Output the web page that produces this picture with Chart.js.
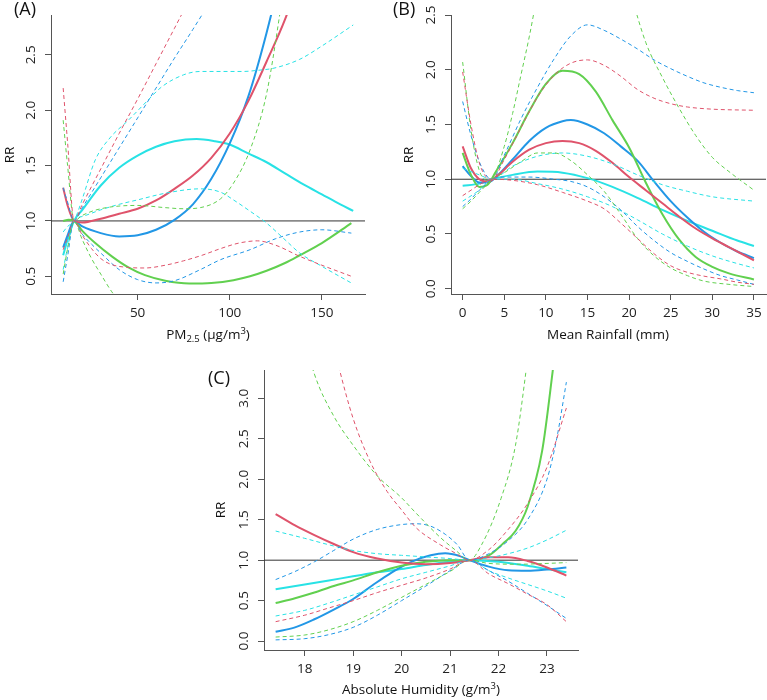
<!DOCTYPE html>
<html>
<head>
<meta charset="utf-8">
<script src="https://cdn.jsdelivr.net/npm/chart.js@4.4.1/dist/chart.umd.min.js"></script>
<style>
  html, body { margin:0; padding:0; background:#fff; }
  body { width:767px; height:700px; position:relative; overflow:hidden; font-family:'Open Sans', sans-serif; }
  canvas { position:absolute; }
  .t { position:absolute; font-family:'Open Sans', sans-serif; font-size:13.5px; line-height:13px; color:#111; white-space:nowrap; }
  .ctr { transform:translateX(-50%); }
  .rot { transform:translate(-50%,-50%) rotate(-90deg); }
  .pl { position:absolute; font-family:'Open Sans', sans-serif; font-size:18px; line-height:17px; color:#111; white-space:nowrap; }
  .sb { font-size:9.5px; line-height:0; vertical-align:-3px; }
  .sp { font-size:9.5px; line-height:0; vertical-align:5px; }
</style>
</head>
<body>
<canvas id="cA" width="380" height="350" style="left:0;top:0"></canvas>
<canvas id="cB" width="387" height="350" style="left:380px;top:0"></canvas>
<canvas id="cC" width="420" height="350" style="left:190px;top:350px"></canvas>

<div class="pl" style="left:14px;top:0px">(A)</div>
<div class="pl" style="left:393px;top:0px">(B)</div>
<div class="pl" style="left:208px;top:369px">(C)</div>

<div class="t rot" style="left:9px;top:155px">RR</div>
<div class="t rot" style="left:408px;top:155px">RR</div>
<div class="t rot" style="left:220px;top:510px">RR</div>

<div class="t ctr" style="left:208px;top:328px">PM<span class="sb">2.5</span> (µg/m<span class="sp">3</span>)</div>
<div class="t ctr" style="left:608px;top:328px">Mean Rainfall (mm)</div>
<div class="t ctr" style="left:421px;top:683px">Absolute Humidity (g/m<span class="sp">3</span>)</div>

<script>
// ---------------- DATA ----------------
// Panel A: PM2.5 (µg/m3)  -- [x, RR]
const A_xTicks = [50, 100, 150];
const A_yTicks = [0.5, 1.0, 1.5, 2.0, 2.5];
const A_red_fit  = [[9.6,1.30],[12,1.14],[15.5,1.0],[20,0.985],[30,1.02],[40,1.065],[50,1.11],[60,1.185],[70,1.29],[80,1.41],[90,1.57],[100,1.79],[110,2.08],[120,2.44],[130,2.82],[140,3.3],[150,3.85],[167,5.0]];
const A_red_lo   = [[9.6,0.74],[12,0.85],[15.5,1.0],[20,0.87],[25,0.75],[30,0.66],[36,0.605],[45,0.58],[54,0.575],[65,0.60],[75,0.64],[85,0.69],[95,0.75],[105,0.80],[115,0.82],[125,0.78],[138,0.68],[150,0.60],[166,0.50]];
const A_red_hi   = [[9.6,2.20],[12,1.71],[15.5,1.0],[20,1.15],[30,1.47],[40,1.79],[50,2.10],[60,2.42],[70,2.74],[80,3.06],[100,3.7],[130,4.6],[167,5.8]];
const A_blue_fit = [[9.6,0.76],[12,0.87],[15.5,1.0],[20,0.95],[30,0.89],[40,0.86],[50,0.87],[60,0.92],[70,1.01],[80,1.15],[90,1.38],[100,1.70],[110,2.12],[120,2.70],[130,3.4],[140,4.2],[167,7.0]];
const A_blue_lo  = [[9.6,0.45],[12,0.68],[15.5,1.0],[20,0.88],[25,0.79],[30,0.71],[40,0.56],[50,0.47],[60,0.44],[70,0.46],[84,0.56],[95,0.65],[111,0.74],[125,0.84],[138,0.90],[150,0.92],[166,0.89]];
const A_blue_hi  = [[9.6,1.30],[12,1.17],[15.5,1.0],[20,1.12],[30,1.39],[40,1.66],[50,1.93],[60,2.20],[70,2.47],[80,2.73],[90,3.0],[110,3.6],[167,5.5]];
const A_cyan_fit = [[9.6,0.69],[12,0.83],[15.5,1.0],[20,1.10],[30,1.32],[40,1.48],[50,1.59],[60,1.67],[70,1.72],[82,1.74],[92,1.72],[100,1.69],[110,1.61],[120,1.53],[130,1.43],[140,1.33],[150,1.24],[160,1.15],[167,1.09]];
const A_cyan_lo  = [[9.6,0.56],[12,0.76],[15.5,1.0],[20,1.04],[30,1.10],[40,1.15],[50,1.19],[65,1.25],[84,1.29],[95,1.26],[102,1.19],[110,1.10],[120,0.98],[130,0.83],[138,0.71],[150,0.59],[167,0.43]];
const A_cyan_hi  = [[9.6,0.90],[12,0.95],[15.5,1.0],[20,1.20],[27,1.55],[35,1.75],[45,1.91],[55,2.08],[63,2.21],[75,2.32],[84,2.35],[95,2.35],[107,2.35],[115,2.36],[124,2.38],[138,2.46],[150,2.58],[167,2.77]];
const A_green_fit= [[9.6,1.0],[12.5,1.01],[15.5,1.0],[20,0.91],[27,0.80],[36,0.68],[45,0.58],[54,0.51],[65,0.46],[78,0.435],[90,0.44],[102,0.465],[111,0.50],[120,0.55],[130,0.62],[138,0.69],[150,0.80],[166,0.98]];
const A_green_lo = [[9.6,0.52],[12,0.75],[15.5,1.0],[20,0.83],[25,0.66],[30,0.52],[36,0.36],[45,0.18],[60,0.08],[90,0.05],[130,0.05],[167,0.08]];
const A_green_hi = [[9.6,1.91],[12,1.50],[15.5,1.0],[20,1.05],[30,1.11],[50,1.14],[65,1.12],[75,1.11],[84,1.12],[95,1.20],[102,1.34],[111,1.64],[120,2.15],[127,2.85],[135,3.8],[167,8.0]];

// Panel B: Mean Rainfall (mm)
const B_xTicks = [0, 5, 10, 15, 20, 25, 30, 35];
const B_yTicks = [0.0, 0.5, 1.0, 1.5, 2.0, 2.5];
const B_red_fit  = [[0,1.30],[1,1.10],[2,1.00],[3,0.98],[4,1.02],[6,1.16],[8,1.27],[10,1.33],[12,1.35],[14,1.33],[16,1.26],[18,1.15],[20,1.02],[22,0.90],[24,0.78],[26,0.66],[28,0.55],[30,0.46],[32,0.38],[35,0.26]];
const B_red_lo   = [[0,0.85],[1,0.90],[2,0.95],[3,0.99],[3.5,1.0],[6,0.99],[9,0.95],[12,0.88],[15,0.80],[17,0.73],[19,0.60],[21,0.46],[23,0.32],[25,0.21],[27,0.15],[29,0.115],[31,0.09],[33,0.06],[35,0.04]];
const B_red_hi   = [[0,1.98],[1,1.50],[2,1.15],[3,1.01],[3.5,1.0],[5,1.18],[7,1.47],[9,1.75],[11,1.95],[13,2.06],[15,2.09],[17,2.04],[19,1.94],[21,1.82],[23,1.74],[25,1.69],[27,1.66],[30,1.64],[35,1.63]];
const B_green_fit= [[0,1.24],[1,1.04],[2,0.93],[3,0.95],[4,1.07],[6,1.33],[8,1.62],[10,1.87],[12,1.99],[14,1.96],[16,1.80],[18,1.54],[20,1.29],[22,0.97],[24,0.68],[26,0.45],[28,0.29],[30,0.20],[32,0.14],[35,0.085]];
const B_green_lo = [[0,0.73],[1,0.80],[2,0.88],[3,0.96],[3.5,1.0],[5,1.06],[7,1.16],[9,1.24],[11,1.24],[13,1.17],[15,1.04],[17,0.89],[19,0.68],[21,0.46],[23,0.30],[25,0.19],[27,0.12],[29,0.07],[32,0.04],[35,0.02]];
const B_green_hi = [[0,2.07],[1,1.45],[2,1.08],[3,0.99],[3.5,1.0],[5,1.30],[6,1.60],[7,1.95],[8,2.30],[9,2.70],[10,3.1],[12,3.6],[15,3.8],[18,3.3],[20,2.75],[22,2.25],[24,1.93],[26,1.65],[28,1.40],[30,1.20],[32,1.07],[35,0.90]];
const B_blue_fit = [[0,1.12],[1,1.03],[2,0.97],[3,0.97],[4,1.02],[6,1.18],[8,1.35],[10,1.47],[12,1.53],[13,1.54],[15,1.50],[17,1.42],[19,1.30],[21,1.17],[23,0.98],[25,0.80],[27,0.65],[29,0.52],[31,0.42],[33,0.34],[35,0.28]];
const B_blue_lo  = [[0,0.75],[1,0.82],[2,0.90],[3,0.97],[3.5,1.0],[5,1.02],[8,1.02],[11,1.0],[13,0.98],[15,0.93],[17,0.84],[19,0.72],[21,0.57],[23,0.44],[25,0.33],[27,0.25],[29,0.18],[31,0.12],[33,0.08],[35,0.04]];
const B_blue_hi  = [[0,1.71],[1,1.40],[2,1.16],[3,1.02],[3.5,1.0],[5,1.22],[7,1.55],[9,1.84],[11,2.10],[13,2.31],[15,2.41],[17,2.36],[19,2.28],[21,2.19],[23,2.09],[25,2.01],[27,1.94],[29,1.88],[31,1.84],[33,1.81],[35,1.79]];
const B_cyan_fit = [[0,0.94],[2,0.96],[3.5,1.0],[6,1.04],[9,1.07],[12,1.06],[15,1.01],[18,0.93],[21,0.83],[24,0.72],[27,0.62],[30,0.53],[33,0.44],[35,0.39]];
const B_cyan_lo  = [[0,0.80],[2,0.90],[3.5,1.0],[6,1.0],[9,0.96],[12,0.91],[15,0.84],[18,0.75],[21,0.63],[24,0.50],[27,0.39],[30,0.30],[33,0.23],[35,0.19]];
const B_cyan_hi  = [[0,1.10],[2,1.04],[3.5,1.0],[6,1.12],[9,1.21],[12,1.24],[15,1.21],[18,1.14],[21,1.04],[24,0.95],[27,0.89],[30,0.84],[35,0.80]];

// Panel C: Absolute Humidity (g/m3)
const C_xTicks = [18, 19, 20, 21, 22, 23];
const C_yTicks = [0.0, 0.5, 1.0, 1.5, 2.0, 2.5, 3.0];
const C_red_fit  = [[17.4,1.57],[17.8,1.43],[18.2,1.31],[18.6,1.20],[19.0,1.10],[19.5,1.02],[20.0,0.97],[20.5,0.95],[21.0,0.965],[21.4,1.0],[21.8,1.035],[22.2,1.035],[22.6,0.99],[23.0,0.91],[23.4,0.81]];
const C_red_lo   = [[17.4,0.24],[18,0.32],[18.5,0.41],[19,0.50],[19.5,0.60],[20,0.69],[20.5,0.78],[21,0.89],[21.4,1.0],[21.8,0.83],[22.2,0.71],[22.6,0.58],[23.0,0.45],[23.4,0.24]];
const C_red_hi   = [[17.4,8.0],[18,5.5],[18.4,4.2],[18.7,3.4],[19,2.75],[19.35,2.22],[19.7,1.85],[20.0,1.62],[20.3,1.40],[20.8,1.19],[21.1,1.09],[21.4,1.0],[21.8,1.13],[22.2,1.38],[22.6,1.70],[23.0,2.15],[23.4,2.88]];
const C_green_fit= [[17.4,0.47],[17.8,0.53],[18.2,0.60],[18.6,0.68],[19.0,0.75],[19.5,0.85],[20.0,0.93],[20.5,0.98],[21.0,1.0],[21.4,1.0],[21.8,1.06],[22.1,1.21],[22.35,1.36],[22.6,1.66],[22.9,2.35],[23.1,3.25],[23.3,4.3],[23.4,5.0]];
const C_green_lo = [[17.4,0.05],[18,0.075],[18.5,0.14],[19,0.24],[19.5,0.38],[20,0.54],[20.5,0.70],[21,0.86],[21.4,1.0],[21.8,0.96],[22.4,0.95],[23.0,0.96],[23.4,0.97]];
const C_green_hi = [[17.4,5.5],[17.8,4.2],[18.2,3.3],[18.6,2.78],[19.0,2.42],[19.5,2.04],[20.0,1.77],[20.3,1.58],[20.8,1.28],[21.1,1.13],[21.4,1.0],[21.65,1.19],[22.05,1.76],[22.35,2.42],[22.57,3.35],[22.8,4.5],[23.4,9.0]];
const C_blue_fit = [[17.4,0.115],[17.8,0.17],[18.2,0.27],[18.6,0.39],[19.0,0.52],[19.4,0.69],[19.8,0.85],[20.2,0.98],[20.6,1.06],[20.9,1.085],[21.2,1.05],[21.4,1.0],[21.8,0.92],[22.2,0.875],[22.6,0.87],[23.0,0.885],[23.4,0.91]];
const C_blue_lo  = [[17.4,0.015],[18,0.03],[18.5,0.08],[19,0.17],[19.5,0.32],[20,0.50],[20.5,0.68],[21,0.87],[21.4,1.0],[21.8,0.87],[22.2,0.74],[22.6,0.59],[23.0,0.44],[23.4,0.28]];
const C_blue_hi  = [[17.4,0.76],[17.8,0.86],[18.2,0.98],[18.6,1.12],[19,1.26],[19.5,1.38],[20,1.44],[20.3,1.45],[20.6,1.42],[20.9,1.32],[21.15,1.19],[21.4,1.0],[21.8,1.08],[22.2,1.24],[22.6,1.5],[23.0,2.0],[23.2,2.5],[23.4,3.2]];
const C_cyan_fit = [[17.4,0.64],[18,0.70],[18.5,0.75],[19,0.80],[19.5,0.85],[20,0.89],[20.5,0.94],[21,0.98],[21.4,1.0],[22,0.98],[22.6,0.93],[23,0.89],[23.4,0.85]];
const C_cyan_lo  = [[17.4,0.31],[18,0.38],[18.5,0.47],[19,0.57],[19.5,0.67],[20,0.77],[20.5,0.85],[21,0.93],[21.4,1.0],[21.8,0.87],[22.2,0.78],[22.6,0.70],[23.0,0.62],[23.4,0.53]];
const C_cyan_hi  = [[17.4,1.36],[18,1.27],[18.5,1.19],[19,1.12],[19.5,1.08],[20,1.06],[20.5,1.04],[21,1.02],[21.4,1.0],[21.8,1.03],[22.2,1.08],[22.6,1.15],[23.0,1.25],[23.4,1.37]];

const REF_RR = 1.0;

// ---------------- STYLE ----------------
const COL = { red:'#DF536B', green:'#61D04F', blue:'#2297E6', cyan:'#28E2E5' };
Chart.defaults.font.family = "'Open Sans', sans-serif";
Chart.defaults.font.size = 13.5;
Chart.defaults.color = '#222';

function pts(a){ return a.map(p => ({x:p[0], y:p[1]})); }

function buildSets(groups, xmin, xmax){
  const ds = [];
  groups.forEach(g => {
    [g.lo, g.hi].forEach(d => ds.push({
      data: pts(d), borderColor: g.color, borderWidth: 1, borderDash: [4,3],
      pointRadius: 0, fill: false, cubicInterpolationMode: 'monotone'
    }));
  });
  groups.forEach(g => ds.push({
    data: pts(g.fit), borderColor: g.color, borderWidth: 2,
    pointRadius: 0, fill: false, cubicInterpolationMode: 'monotone'
  }));
  ds.push({ data: [{x:xmin, y:REF_RR},{x:xmax, y:REF_RR}], borderColor:'#333', borderWidth:1, pointRadius:0, tension:0 });
  return ds;
}

function axisCommon(){
  return {
    grid: { drawOnChartArea:false, drawTicks:true, tickLength:6, color:'#555', lineWidth:1 },
    border: { display:true, color:'#555', width:1 }
  };
}

function makePanel(id, cfg){
  const c = axisCommon();
  return new Chart(document.getElementById(id), {
    type: 'line',
    data: { datasets: buildSets(cfg.groups, cfg.xmin, cfg.xmax) },
    options: {
      responsive:false, animation:false, devicePixelRatio:1,
      layout: { padding: { left:0, top:cfg.padT, right:cfg.padR, bottom:0 } },
      plugins: { legend:{display:false}, tooltip:{enabled:false}, title:{display:false} },
      scales: {
        x: {
          type:'linear', position:'bottom', min:cfg.xmin, max:cfg.xmax,
          afterBuildTicks: s => { s.ticks = cfg.xTicks.map(v => ({value:v})); },
          afterFit: s => { s.height = cfg.xH; },
          ticks: { autoSkip:false, maxRotation:0, minRotation:0, padding:5, color:'#222',
                   callback: v => String(v) },
          grid: c.grid, border: c.border
        },
        y: {
          type:'linear', position:'left', min:cfg.ymin, max:cfg.ymax,
          afterBuildTicks: s => { s.ticks = cfg.yTicks.map(v => ({value:v})); },
          afterFit: s => { s.width = cfg.yW; },
          ticks: { autoSkip:false, minRotation:90, maxRotation:90, crossAlign:'center', padding:4, color:'#222',
                   callback: v => Number(v).toFixed(1) },
          grid: c.grid, border: c.border
        }
      }
    }
  });
}

makePanel('cA', {
  xmin:3.0, xmax:173.4, ymin:0.34, ymax:2.86, xTicks:A_xTicks, yTicks:A_yTicks,
  padT:15, padR:15, xH:56, yW:51,
  groups: [
    {color:COL.red,   fit:A_red_fit,   lo:A_red_lo,   hi:A_red_hi},
    {color:COL.green, fit:A_green_fit, lo:A_green_lo, hi:A_green_hi},
    {color:COL.blue,  fit:A_blue_fit,  lo:A_blue_lo,  hi:A_blue_hi},
    {color:COL.cyan,  fit:A_cyan_fit,  lo:A_cyan_lo,  hi:A_cyan_hi}
  ]
});

makePanel('cB', {
  xmin:-1.4, xmax:36.45, ymin:-0.048, ymax:2.5, xTicks:B_xTicks, yTicks:B_yTicks,
  padT:15, padR:1, xH:56, yW:71,
  groups: [
    {color:COL.red,   fit:B_red_fit,   lo:B_red_lo,   hi:B_red_hi},
    {color:COL.green, fit:B_green_fit, lo:B_green_lo, hi:B_green_hi},
    {color:COL.blue,  fit:B_blue_fit,  lo:B_blue_lo,  hi:B_blue_hi},
    {color:COL.cyan,  fit:B_cyan_fit,  lo:B_cyan_lo,  hi:B_cyan_hi}
  ]
});

makePanel('cC', {
  xmin:17.16, xmax:23.64, ymin:-0.11, ymax:3.35, xTicks:C_xTicks, yTicks:C_yTicks,
  padT:20, padR:32, xH:50, yW:74,
  groups: [
    {color:COL.red,   fit:C_red_fit,   lo:C_red_lo,   hi:C_red_hi},
    {color:COL.green, fit:C_green_fit, lo:C_green_lo, hi:C_green_hi},
    {color:COL.blue,  fit:C_blue_fit,  lo:C_blue_lo,  hi:C_blue_hi},
    {color:COL.cyan,  fit:C_cyan_fit,  lo:C_cyan_lo,  hi:C_cyan_hi}
  ]
});
</script>
</body>
</html>
